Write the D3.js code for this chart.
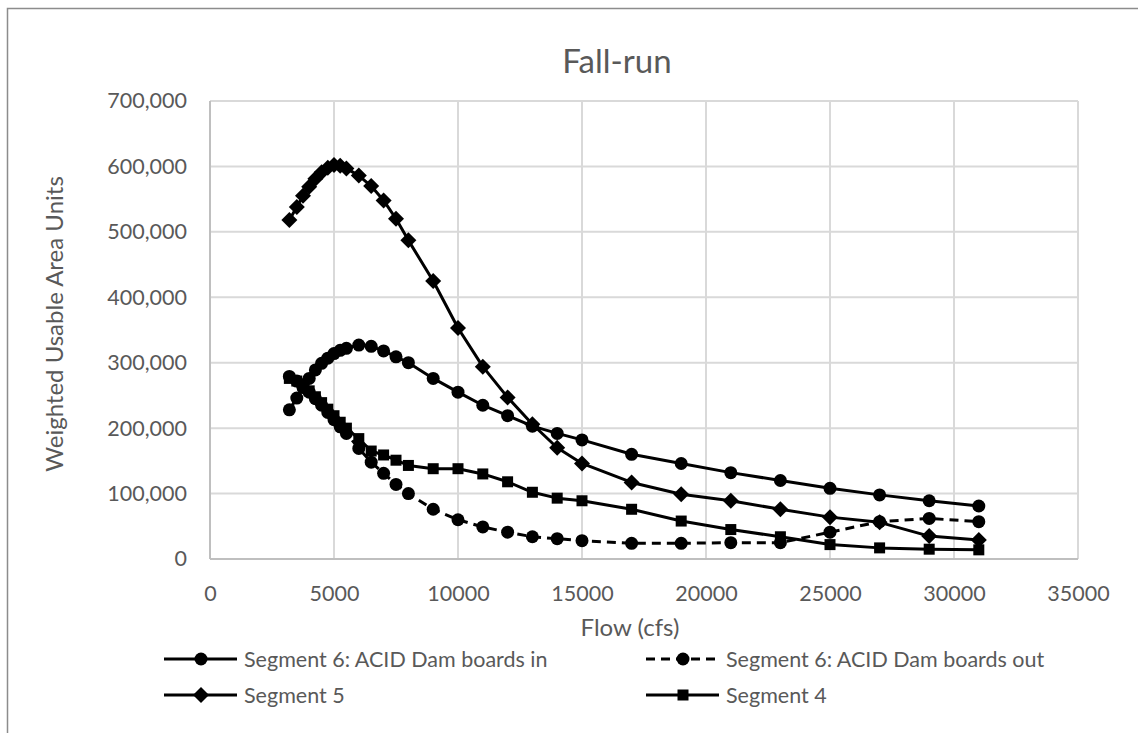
<!DOCTYPE html>
<html><head><meta charset="utf-8">
<script src="https://cdn.jsdelivr.net/npm/d3@7"></script>
<style>
html,body{margin:0;padding:0;background:#fff;}
svg text{font-family:Lato,"Open Sans",sans-serif;fill:#595959;}
</style></head>
<body>
<svg id="c" width="1138" height="733"></svg>
<script>
const title = "Fall-run";
const xTitle = "Flow (cfs)";
const yTitle = "Weighted Usable Area Units";
const flows = [3200,3500,3750,4000,4250,4500,4750,5000,5250,5500,6000,6500,7000,7500,8000,9000,10000,11000,12000,13000,14000,15000,17000,19000,21000,23000,25000,27000,29000,31000];
const seg6In  = [228000,246000,262000,276000,289000,299000,307000,314000,319000,322000,327000,325000,318000,309000,300000,276000,255000,235000,219000,203000,192000,182000,160000,146000,132000,120000,108000,98000,89000,81000];
const seg6Out = [279000,272000,264000,255000,245000,235000,224000,213000,202000,192000,169000,148000,131000,114000,100000,76000,60000,49000,41000,34000,31000,28000,24000,24000,25000,25000,41000,57000,62000,57000];
const seg5    = [518000,538000,555000,569000,581000,591000,598000,602000,601000,597000,586000,570000,548000,520000,487000,425000,353000,294000,247000,206000,170000,146000,117000,99000,89000,76000,64000,56000,35000,29000];
const seg4    = [276000,272000,265000,257000,248000,239000,229000,219000,209000,200000,184000,165000,159000,151000,143000,138000,138000,130000,118000,102000,93000,89000,76000,58000,45000,34000,22000,17000,15000,14000];
const seriesNames = ["Segment 6: ACID Dam boards in","Segment 6: ACID Dam boards out","Segment 5","Segment 4"];
const seriesValues = [seg6In, seg6Out, seg5, seg4];
const seriesMarkers = ["circle","circle","diamond","square"];
const seriesDashed = [false,true,false,false];
const xTicks = [0,5000,10000,15000,20000,25000,30000,35000];
const yTicks = [0,100000,200000,300000,400000,500000,600000,700000];

const svg = d3.select("#c");
// chart border
svg.append("rect").attr("x",7.5).attr("y",8.5).attr("width",1200).attr("height",800)
  .attr("fill","none").attr("stroke","#8c8c8c").attr("stroke-width",1.5);

const x = d3.scaleLinear().domain([0,35000]).range([210,1078]);
const y = d3.scaleLinear().domain([0,700000]).range([559,101]);

// gridlines
const g = svg.append("g");
g.selectAll("line.v").data(xTicks.slice(1)).join("line")
  .attr("x1",d=>x(d)).attr("x2",d=>x(d)).attr("y1",y(0)).attr("y2",y(700000))
  .attr("stroke","#d9d9d9").attr("stroke-width",2);
g.selectAll("line.h").data(yTicks.slice(1)).join("line")
  .attr("y1",d=>y(d)).attr("y2",d=>y(d)).attr("x1",x(0)).attr("x2",x(35000))
  .attr("stroke","#d9d9d9").attr("stroke-width",2);
// axis lines
g.append("line").attr("x1",x(0)).attr("x2",x(0)).attr("y1",y(0)).attr("y2",y(700000)).attr("stroke","#bfbfbf").attr("stroke-width",2);
g.append("line").attr("x1",x(0)).attr("x2",x(35000)).attr("y1",y(0)).attr("y2",y(0)).attr("stroke","#bfbfbf").attr("stroke-width",2);

// axes via d3 axis (labels only)
const xAxis = svg.append("g").attr("transform",`translate(0,${y(0)})`)
  .call(d3.axisBottom(x).tickValues(xTicks).tickFormat(d3.format("d")).tickSize(0).tickPadding(24));
const yAxis = svg.append("g").attr("transform",`translate(${x(0)},0)`)
  .call(d3.axisLeft(y).tickValues(yTicks).tickFormat(d3.format(",")).tickSize(0).tickPadding(23));
[xAxis,yAxis].forEach(a=>{a.select(".domain").remove();
  a.selectAll("text").style("font-size","21.5px").style("font-family","Lato").attr("fill","#595959");});
xAxis.selectAll("text").attr("dy","0.35em").attr("y",34);

// titles
svg.append("text").attr("x",617).attr("y",60).attr("text-anchor","middle").attr("dominant-baseline","central")
  .style("font-size","33px").text(title);
svg.append("text").attr("x",630).attr("y",626).attr("text-anchor","middle").attr("dominant-baseline","central")
  .style("font-size","24px").text(xTitle);
svg.append("text").attr("transform","translate(53,324) rotate(-90)").attr("text-anchor","middle").attr("dominant-baseline","central")
  .style("font-size","24px").text(yTitle);

function marker(sel, type){
  if(type==="circle") return sel.append("circle").attr("r",6.5).attr("fill","#000");
  if(type==="diamond") return sel.append("path").attr("d","M0,-8L8,0L0,8L-8,0Z").attr("fill","#000");
  return sel.append("rect").attr("x",-5.5).attr("y",-5.5).attr("width",11).attr("height",11).attr("fill","#000");
}

const line = d3.line().x(d=>x(d[0])).y(d=>y(d[1]));
seriesValues.forEach((vals,i)=>{
  const pts = flows.map((f,j)=>[f,vals[j]]);
  const s = svg.append("g");
  s.append("path").datum(pts).attr("d",line).attr("fill","none").attr("stroke","#000")
    .attr("stroke-width",3).attr("stroke-linejoin","round")
    .attr("stroke-dasharray",seriesDashed[i]?"9,6":null);
  pts.forEach(p=>{
    const m = s.append("g").attr("transform",`translate(${x(p[0])},${y(p[1])})`);
    marker(m, seriesMarkers[i]);
  });
});

// legend
const legPos = [[164,659],[646,659],[164,695],[646,695]];
seriesNames.forEach((n,i)=>{
  const [lx,ly] = legPos[i];
  const lg = svg.append("g").attr("transform",`translate(${lx},${ly})`);
  lg.append("line").attr("x1",0).attr("x2",73).attr("y1",0).attr("y2",0).attr("stroke","#000")
    .attr("stroke-width",3).attr("stroke-dasharray",seriesDashed[i]?"9,6":null);
  const m = lg.append("g").attr("transform","translate(37,0)");
  marker(m, seriesMarkers[i]);
  lg.append("text").attr("x",80).attr("y",0).attr("dominant-baseline","central")
    .style("font-size","21.5px").text(n);
});
</script>
</body></html>
